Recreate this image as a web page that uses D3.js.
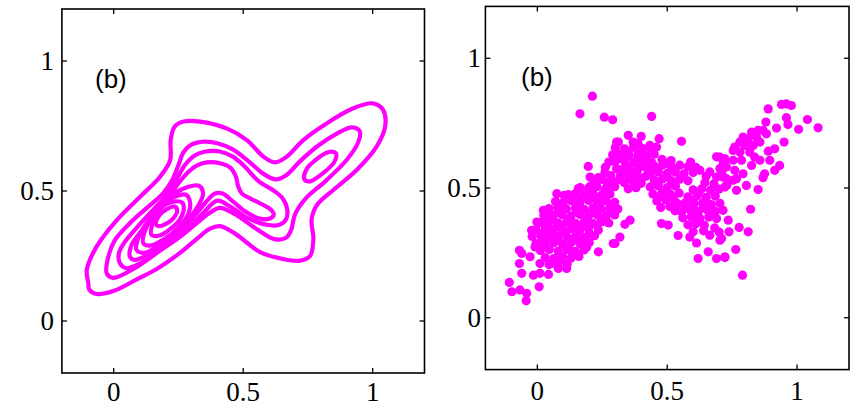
<!DOCTYPE html>
<html><head><meta charset="utf-8">
<script src="https://cdn.jsdelivr.net/npm/d3@7"></script>
<style>body{margin:0;background:#fff}svg{display:block}</style>
</head><body>
<svg id="chart" width="854" height="406"></svg>
<script>
// ---------- data ----------
const xTicks = [0, 0.5, 1];
const yTicks = [0, 0.5, 1];
const tickLabels = ["0", "0.5", "1"];
const panelLabel = "(b)";
const domain = [-0.2, 1.2];

// contour lines (density levels, outermost first), data coordinates
const level1 = [[-0.098,0.145],[-0.104,0.196],[-0.066,0.286],[0.012,0.388],[0.102,0.478],[0.179,0.555],[0.218,0.619],[0.22,0.696],[0.235,0.747],[0.27,0.767],[0.333,0.767],[0.436,0.741],[0.514,0.696],[0.578,0.632],[0.623,0.61],[0.668,0.632],[0.732,0.696],[0.822,0.76],[0.925,0.818],[1.0,0.837],[1.04,0.812],[1.048,0.747],[1.015,0.671],[0.938,0.581],[0.848,0.504],[0.784,0.445],[0.764,0.39],[0.771,0.315],[0.758,0.25],[0.719,0.232],[0.655,0.238],[0.565,0.265],[0.47,0.335],[0.41,0.365],[0.372,0.355],[0.32,0.315],[0.256,0.262],[0.166,0.2],[0.089,0.16],[-0.001,0.115],[-0.066,0.104],[-0.095,0.122]];
const level2 = [[-0.027,0.183],[-0.02,0.25],[0.005,0.312],[0.063,0.377],[0.128,0.435],[0.19,0.49],[0.225,0.54],[0.25,0.6],[0.27,0.65],[0.3,0.678],[0.35,0.69],[0.4,0.684],[0.46,0.66],[0.52,0.615],[0.58,0.565],[0.625,0.545],[0.665,0.56],[0.72,0.615],[0.79,0.675],[0.86,0.72],[0.92,0.745],[0.95,0.73],[0.945,0.69],[0.9,0.62],[0.82,0.54],[0.74,0.47],[0.7,0.41],[0.685,0.35],[0.665,0.32],[0.62,0.315],[0.55,0.355],[0.47,0.41],[0.41,0.435],[0.37,0.415],[0.32,0.376],[0.256,0.324],[0.166,0.262],[0.076,0.2],[-0.002,0.166]];
const level3right = [[0.736,0.545],[0.745,0.585],[0.78,0.62],[0.83,0.65],[0.858,0.645],[0.852,0.612],[0.806,0.567],[0.757,0.537]];
const level3left = [[0.024,0.222],[0.02,0.26],[0.04,0.3],[0.09,0.36],[0.145,0.42],[0.2,0.48],[0.24,0.54],[0.275,0.6],[0.31,0.635],[0.35,0.651],[0.41,0.652],[0.46,0.632],[0.5,0.6],[0.56,0.537],[0.614,0.504],[0.652,0.472],[0.67,0.43],[0.665,0.39],[0.64,0.37],[0.59,0.37],[0.51,0.4],[0.45,0.44],[0.4,0.463],[0.35,0.42],[0.28,0.35],[0.204,0.292],[0.127,0.235],[0.05,0.203]];
const level4 = [[0.063,0.247],[0.068,0.29],[0.11,0.35],[0.16,0.41],[0.21,0.47],[0.25,0.53],[0.29,0.575],[0.32,0.598],[0.36,0.61],[0.41,0.607],[0.45,0.59],[0.472,0.555],[0.48,0.52],[0.495,0.49],[0.53,0.47],[0.57,0.45],[0.605,0.43],[0.618,0.41],[0.6,0.393],[0.56,0.395],[0.51,0.42],[0.46,0.46],[0.42,0.49],[0.39,0.49],[0.35,0.45],[0.293,0.382],[0.229,0.324],[0.152,0.267],[0.082,0.235]];
const level5 = [[0.088,0.273],[0.095,0.32],[0.13,0.38],[0.18,0.44],[0.235,0.49],[0.285,0.515],[0.33,0.52],[0.345,0.49],[0.33,0.45],[0.3,0.405],[0.248,0.35],[0.178,0.295],[0.12,0.262]];
const level6 = [[0.114,0.299],[0.12,0.345],[0.15,0.4],[0.19,0.45],[0.24,0.48],[0.28,0.485],[0.295,0.455],[0.285,0.405],[0.25,0.36],[0.2,0.318],[0.14,0.29]];
const level7 = [[0.146,0.331],[0.148,0.37],[0.165,0.41],[0.195,0.445],[0.235,0.46],[0.265,0.455],[0.27,0.425],[0.255,0.39],[0.22,0.355],[0.18,0.33]];
const level8 = [[0.163,0.372],[0.175,0.405],[0.205,0.43],[0.235,0.44],[0.245,0.425],[0.23,0.395],[0.2,0.373],[0.175,0.365]];
const contours = [level1, level2, level3right, level3left, level4, level5, level6, level7, level8];

// scatter sample points
const points = [
[0.212,0.854],[0.164,0.786],[0.258,0.773],[0.29,0.763],[0.44,0.776],[0.555,0.68],
[0.35,0.703],[0.40,0.699],[0.469,0.69],[0.312,0.677],[0.369,0.677],[0.388,0.671],[0.433,0.664],[0.459,0.658],
[0.889,0.805],[0.94,0.822],[0.959,0.824],[0.978,0.818],[0.88,0.754],[0.959,0.771],[0.965,0.745],[1.04,0.764],[1.006,0.726],[1.081,0.732],[0.921,0.731],[0.95,0.677],[0.914,0.651],[0.889,0.642],[0.895,0.607],[0.933,0.587],[0.914,0.568],[0.875,0.555],[0.869,0.54],[0.85,0.494],[0.821,0.418],[0.812,0.331],[0.777,0.348],[0.764,0.263],[0.79,0.164],[0.722,0.232],[0.715,0.414],[0.735,0.376],[0.738,0.331],[0.709,0.305],
[0.825,0.715],[0.85,0.722],[0.869,0.722],[0.844,0.696],[0.812,0.69],[0.792,0.696],[0.78,0.677],[0.76,0.658],[0.754,0.645],[0.799,0.664],[0.831,0.664],[0.857,0.677],[0.882,0.709],[0.818,0.638],[0.837,0.619],[0.825,0.587],[0.857,0.607],[0.78,0.638],[0.786,0.607],[0.754,0.607],[0.722,0.613],[0.703,0.619],[0.728,0.581],[0.76,0.568],[0.792,0.555],[0.767,0.536],[0.728,0.536],[0.715,0.542],[0.722,0.504],[0.767,0.491],[0.805,0.51],[0.703,0.575],[0.754,0.53],
[0.722,0.6],[0.626,0.568],[0.664,0.562],[0.69,0.542],[0.69,0.62],[0.716,0.595],[0.71,0.557],[0.73,0.512],[0.65,0.545],[0.6,0.56],[0.61,0.58],[0.59,0.6],
[0.478,0.363],[0.504,0.357],[0.542,0.317],[0.587,0.311],[0.613,0.288],[0.619,0.228],[0.658,0.254],[0.69,0.228],[0.722,0.235],[0.664,0.318],[0.703,0.299],[0.683,0.346],[0.70,0.33],[0.357,0.376],[0.337,0.36],[0.318,0.311],[0.292,0.286],
[0.196,0.583],[0.305,0.677],[0.203,0.542],[0.235,0.54],[0.203,0.506],[0.158,0.498],[0.075,0.478],[0.103,0.472],[0.023,0.414],[0.049,0.401],[-0.002,0.369],[0.03,0.376],[0.043,0.344],[-0.022,0.337],[0.023,0.325],[0.01,0.286],[-0.069,0.26],[-0.06,0.248],[-0.069,0.209],[-0.028,0.235],[-0.009,0.273],[-0.06,0.171],[-0.015,0.164],[0.01,0.171],[0.043,0.167],[0.007,0.119],[-0.108,0.136],[-0.098,0.1],[-0.067,0.107],[-0.041,0.094],[-0.043,0.065],[0.055,0.209],[0.01,0.209],[0.081,0.19],[0.113,0.19],[0.087,0.222],[0.126,0.26],[0.158,0.299],[0.19,0.273],[0.235,0.254],[0.299,0.286],
[0.045,0.205],[0.08,0.201],[0.115,0.207],
[0.03,0.232],[0.063,0.228],[0.097,0.235],[0.13,0.23],[0.16,0.236],
[0.012,0.259],[0.046,0.263],[0.08,0.257],[0.113,0.262],[0.147,0.256],[0.18,0.261],
[-0.005,0.286],[0.03,0.282],[0.063,0.289],[0.097,0.284],[0.13,0.29],[0.164,0.285],[0.2,0.29],
[-0.02,0.313],[0.013,0.317],[0.047,0.311],[0.08,0.316],[0.114,0.31],[0.147,0.315],[0.18,0.31],[0.22,0.316],
[-0.005,0.34],[0.03,0.336],[0.063,0.343],[0.097,0.338],[0.13,0.344],[0.164,0.338],[0.197,0.343],[0.235,0.338],
[0.01,0.367],[0.045,0.371],[0.08,0.365],[0.113,0.37],[0.147,0.364],[0.18,0.369],[0.214,0.364],[0.25,0.37],[0.275,0.365],
[0.025,0.394],[0.06,0.39],[0.095,0.397],[0.13,0.392],[0.164,0.398],[0.197,0.392],[0.23,0.397],[0.265,0.391],[0.298,0.396],
[0.045,0.421],[0.078,0.425],[0.112,0.419],[0.147,0.424],[0.18,0.418],[0.214,0.423],[0.247,0.418],[0.28,0.424],[0.31,0.419],
[0.07,0.448],[0.1,0.444],[0.13,0.451],[0.164,0.446],[0.197,0.452],[0.23,0.446],[0.265,0.451],[0.298,0.445],
[0.12,0.475],[0.147,0.479],[0.18,0.473],[0.214,0.478],[0.247,0.472],[0.28,0.477],
[0.165,0.502],[0.197,0.498],[0.23,0.505],[0.265,0.5],[0.298,0.505],
[0.22,0.529],[0.25,0.533],[0.285,0.527],[0.315,0.532],
[0.03,0.3],[0.08,0.302],[0.13,0.299],[0.18,0.297],
[0.05,0.327],[0.11,0.326],[0.15,0.328],[0.2,0.325],
[0.03,0.354],[0.095,0.353],[0.165,0.352],[0.23,0.355],
[0.06,0.38],[0.12,0.381],[0.19,0.38],[0.245,0.382],
[0.08,0.407],[0.15,0.408],[0.21,0.406],[0.28,0.409],
[0.09,0.434],[0.16,0.435],[0.24,0.433],[0.28,0.436],
[0.15,0.46],[0.22,0.461],[0.25,0.459],
[0.2,0.49],[0.26,0.488],
[0.3,0.655],[0.335,0.651],[0.37,0.657],[0.405,0.652],[0.435,0.656],
[0.29,0.628],[0.32,0.632],[0.352,0.626],[0.387,0.631],[0.42,0.625],[0.45,0.63],
[0.3,0.601],[0.335,0.605],[0.37,0.599],[0.405,0.604],[0.44,0.598],
[0.305,0.574],[0.32,0.57],[0.352,0.577],[0.387,0.572],[0.42,0.578],[0.455,0.573],
[0.32,0.547],[0.352,0.543],[0.385,0.55],[0.418,0.545],
[0.335,0.52],[0.37,0.524],[0.4,0.518],
[0.35,0.497],[0.38,0.501],
[0.35,0.64],[0.4,0.64],[0.32,0.615],[0.385,0.615],[0.42,0.61],[0.34,0.585],[0.4,0.585],[0.37,0.56],[0.43,0.56],[0.34,0.56],[0.36,0.535],[0.4,0.535],
[0.26,0.56],[0.283,0.548],[0.275,0.6],[0.27,0.52],[0.262,0.58],
[0.48,0.61],[0.515,0.606],
[0.45,0.585],[0.482,0.589],[0.515,0.583],[0.548,0.588],[0.58,0.582],
[0.435,0.558],[0.466,0.562],[0.5,0.556],[0.532,0.561],[0.565,0.555],
[0.45,0.531],[0.482,0.535],[0.515,0.529],[0.548,0.534],[0.58,0.528],
[0.435,0.504],[0.466,0.508],[0.5,0.502],[0.532,0.507],
[0.445,0.477],[0.48,0.481],[0.513,0.475],[0.546,0.48],
[0.46,0.45],[0.495,0.454],[0.53,0.448],
[0.475,0.425],[0.51,0.429],
[0.5,0.595],[0.465,0.57],[0.53,0.57],[0.5,0.545],[0.465,0.52],[0.53,0.52],[0.5,0.49],[0.47,0.465],[0.52,0.465],
[0.645,0.52],[0.68,0.516],
[0.6,0.493],[0.633,0.497],[0.667,0.491],[0.7,0.496],
[0.58,0.466],[0.615,0.47],[0.65,0.464],[0.685,0.469],
[0.54,0.439],[0.57,0.443],[0.603,0.437],[0.636,0.442],[0.67,0.436],[0.703,0.441],
[0.53,0.412],[0.555,0.408],[0.588,0.415],[0.62,0.41],[0.653,0.416],[0.686,0.41],
[0.56,0.385],[0.593,0.389],[0.626,0.383],[0.66,0.388],[0.69,0.382],
[0.58,0.358],[0.61,0.362],[0.643,0.356],
[0.6,0.331],[0.64,0.335],
[0.62,0.48],[0.6,0.45],[0.65,0.45],[0.57,0.425],[0.64,0.425],[0.6,0.4],[0.67,0.4],[0.62,0.37]
];

// ---------- drawing ----------
const svg = d3.select("#chart");
const magenta = "#ff00ff";

function panel(px0, px1, py0, py1, labelX, labelY, ylabEnd, xlabBase) {
  const x = d3.scaleLinear().domain(domain).range([px0, px1]);
  const y = d3.scaleLinear().domain(domain).range([py1, py0]);
  const g = svg.append("g");
  const id = "clip" + Math.round(px0);
  svg.append("clipPath").attr("id", id).append("rect")
    .attr("x", px0).attr("y", py0).attr("width", px1 - px0).attr("height", py1 - py0);
  const plot = g.append("g").attr("clip-path", `url(#${id})`);
  g.append("rect").attr("x", px0).attr("y", py0).attr("width", px1 - px0).attr("height", py1 - py0)
    .attr("fill", "none").attr("stroke", "#000").attr("stroke-width", 1.6);
  const tl = 5;
  xTicks.forEach(t => {
    g.append("line").attr("x1", x(t)).attr("x2", x(t)).attr("y1", py1).attr("y2", py1 - tl).attr("stroke", "#000").attr("stroke-width", 1.3);
    g.append("line").attr("x1", x(t)).attr("x2", x(t)).attr("y1", py0).attr("y2", py0 + tl).attr("stroke", "#000").attr("stroke-width", 1.3);
  });
  yTicks.forEach(t => {
    g.append("line").attr("y1", y(t)).attr("y2", y(t)).attr("x1", px0).attr("x2", px0 + tl).attr("stroke", "#000").attr("stroke-width", 1.3);
    g.append("line").attr("y1", y(t)).attr("y2", y(t)).attr("x1", px1).attr("x2", px1 - tl).attr("stroke", "#000").attr("stroke-width", 1.3);
  });
  const font = "'Liberation Serif','Times New Roman',serif";
  g.selectAll("text.xl").data(xTicks).enter().append("text")
    .attr("x", d => x(d)).attr("y", xlabBase).attr("text-anchor", "middle")
    .attr("font-family", font).attr("font-size", 27).attr("fill", "#000")
    .text((d, i) => tickLabels[i]);
  g.selectAll("text.yl").data(yTicks).enter().append("text")
    .attr("x", ylabEnd).attr("y", d => y(d) + 9).attr("text-anchor", "end")
    .attr("font-family", font).attr("font-size", 27).attr("fill", "#000")
    .text((d, i) => tickLabels[i]);
  g.append("text").attr("x", labelX).attr("y", labelY)
    .attr("font-family", "'Liberation Sans',Arial,sans-serif").attr("font-size", 26).attr("fill", "#000")
    .text(panelLabel);
  return {x, y, plot};
}

// left: contour plot
const L = panel(61.9, 424.5, 9, 373, 95, 88, 54, 401);
const line = d3.line().x(d => L.x(d[0])).y(d => L.y(d[1])).curve(d3.curveCatmullRomClosed.alpha(0.5));
L.plot.selectAll("path.c").data(contours).enter().append("path")
  .attr("d", line).attr("fill", "none").attr("stroke", magenta).attr("stroke-width", 4.2);

// right: scatter plot
const R = panel(485.4, 849, 6.4, 369.6, 521, 86, 481, 400);
R.plot.selectAll("circle").data(points).enter().append("circle")
  .attr("cx", d => R.x(d[0])).attr("cy", d => R.y(d[1])).attr("r", 4.6).attr("fill", magenta);
</script>
</body></html>
